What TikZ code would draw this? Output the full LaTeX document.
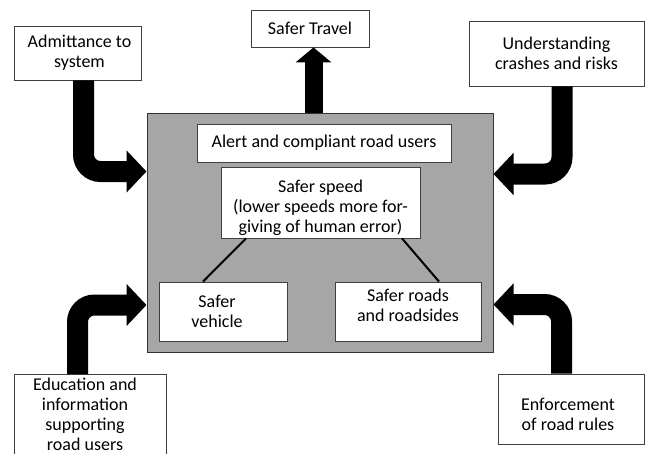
\documentclass[tikz,border=0pt]{standalone}
\usepackage{fontspec}
\setmainfont{Carlito}
\usetikzlibrary{arrows.meta}
\newcommand{\shiftup}[2]{\raisebox{#1}[\height][\depth]{\begin{tabular}{@{}c@{}}#2\end{tabular}}}
\begin{document}
\begin{tikzpicture}[x=1pt,y=-1pt,
  box/.style={draw=black!75,line width=0.8pt,fill=white,inner sep=0pt,align=center,
    font=\fontsize{18}{20}\selectfont},
  bigarrow/.style={line width=21pt,rounded corners=17pt,
    -{Triangle[length=20pt,width=41pt]}},
  uparrow/.style={line width=18pt,-{Triangle[length=15pt,width=35pt]}},
  link/.style={line width=2pt}]
\useasboundingbox (0,0) rectangle (651,453);
% main grey area
\node[draw=black!80,line width=1pt,fill=black!35,minimum width=346pt,minimum height=239pt,inner sep=0pt]
  (main) at (320,232.5) {};
% outer boxes
\node[box,minimum width=127pt,minimum height=54pt] (adm) at (77.5,53) {\shiftup{0pt}{Admittance to\\system}\hspace*{-4pt}};
\node[box,minimum width=118pt,minimum height=37pt] (st) at (310,28.5) {Safer Travel};
\node[box,minimum width=175pt,minimum height=65pt] (und) at (556.5,53.5) {Understanding\\crashes and risks};
\node[box,minimum width=152pt,minimum height=96pt,anchor=north] (edu) at (90,374) {\shiftup{6pt}{Education and\\information\\supporting\\road users}\hspace*{10pt}};
\node[box,minimum width=146pt,minimum height=70pt] (enf) at (571,409) {\shiftup{-7.5pt}{Enforcement\\of road rules}\hspace*{6pt}};
% inner boxes
\node[box,minimum width=254pt,minimum height=38pt] (alert) at (324,143) {Alert and compliant road users};
\node[box,minimum width=199pt,minimum height=71pt] (speed) at (320.5,202.5) {\shiftup{-6pt}{Safer speed\\(lower speeds more for-\\giving of human error)}};
\node[box,minimum width=128pt,minimum height=59pt] (veh) at (223,311.5) {\hspace*{-12pt}Safer\\\hspace*{-12pt}vehicle};
\node[box,minimum width=146pt,minimum height=59pt] (roads) at (408,311.5) {\shiftup{4pt}{Safer roads\\and roadsides}};
% links
\draw[link] ([xshift=-74.5pt]speed.south) -- ([xshift=-20pt]veh.north);
\draw[link] ([xshift=81.5pt]speed.south) -- ([xshift=31pt]roads.north);
% big arrows
\draw[bigarrow] ([xshift=6pt]adm.south) |- ([yshift=61pt]main.west);
\draw[bigarrow] ([xshift=5.5pt]und.south) |- ([yshift=58.5pt]main.east);
\draw[bigarrow] ([xshift=-12.5pt]edu.north) |- ([yshift=-72.5pt]main.west);
\draw[bigarrow] ([xshift=-9.5pt]enf.north) |- ([yshift=-72pt]main.east);
\draw[uparrow] ([xshift=-6.5pt]main.north) -- ([xshift=3.5pt]st.south);
\end{tikzpicture}
\end{document}
